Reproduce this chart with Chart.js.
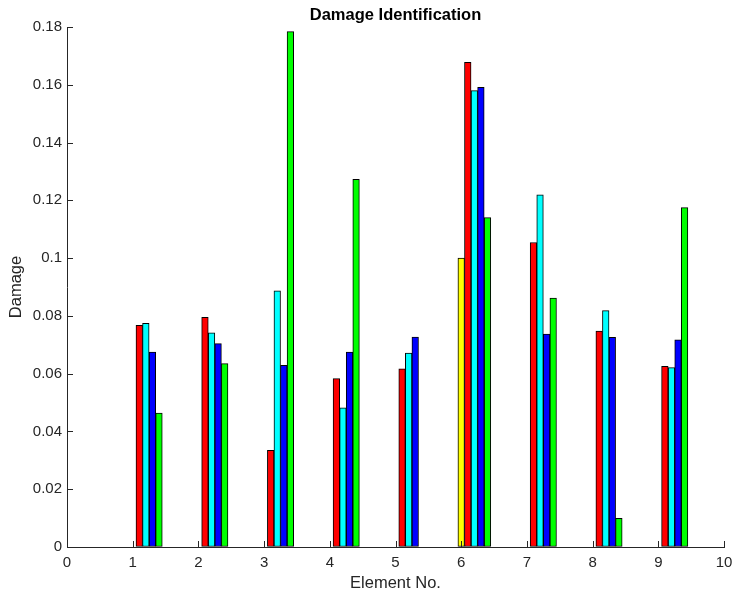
<!DOCTYPE html>
<html>
<head>
<meta charset="utf-8">
<script src="https://cdn.jsdelivr.net/npm/chart.js@4/dist/chart.umd.min.js"></script>
<style>
  html, body { margin: 0; padding: 0; background: #ffffff; }
  #wrap { width: 733px; height: 594px; }
</style>
</head>
<body>
<div id="wrap"><canvas id="c" width="733" height="594"></canvas></div>
<script>
// ---- data ----
const elements = [1, 2, 3, 4, 5, 6, 7, 8, 9];
const seriesYellow = [0, 0, 0, 0, 0, 0.1000, 0, 0, 0];
const seriesRed    = [0.0767, 0.0795, 0.0335, 0.0583, 0.0617, 0.1678, 0.1054, 0.0747, 0.0625];
const seriesCyan   = [0.0774, 0.0741, 0.0887, 0.0482, 0.0671, 0.1580, 0.1219, 0.0818, 0.0621];
const seriesBlue   = [0.0675, 0.0704, 0.0629, 0.0675, 0.0727, 0.1591, 0.0737, 0.0726, 0.0717];
const seriesGreen  = [0.0464, 0.0635, 0.1784, 0.1273, 0,      0.1140, 0.0862, 0.0099, 0.1175];
const xTickValues = [0, 1, 2, 3, 4, 5, 6, 7, 8, 9, 10];
const yTickValues = [0, 0.02, 0.04, 0.06, 0.08, 0.1, 0.12, 0.14, 0.16, 0.18];

const seriesList = [seriesYellow, seriesRed, seriesCyan, seriesBlue, seriesGreen];
const seriesColors = ['#ffff00', '#ff0000', '#00ffff', '#0000ff', '#00ff00'];
const seriesShift = [0, 0.1, 0.2, 0.3, 0.4];

const axisColor = '#262626';
const fontFamily = '"Liberation Sans", Arial, Helvetica, sans-serif';

const datasets = seriesList.map((vals, s) => ({
  label: 'S' + (s + 1),
  data: elements.map((e, i) => ({ x: e + seriesShift[s], y: vals[i] })),
  backgroundColor: seriesColors[s],
  borderColor: '#000000',
  borderWidth: 1,
  borderSkipped: false,
  barPercentage: 1,
  categoryPercentage: 1,
  grouped: false
}));

const inwardTicks = {
  id: 'inwardTicks',
  afterDraw(chart) {
    const ctx = chart.ctx;
    const xs = chart.scales.x, ys = chart.scales.y;
    const len = 6;
    ctx.save();
    ctx.strokeStyle = axisColor;
    ctx.lineWidth = 1;
    ctx.beginPath();
    xTickValues.forEach(v => {
      const px = Math.round(xs.getPixelForValue(v)) + 0.5;
      ctx.moveTo(px, ys.bottom);
      ctx.lineTo(px, ys.bottom - len);
    });
    yTickValues.forEach(v => {
      const py = Math.round(ys.getPixelForValue(v)) + 0.5;
      ctx.moveTo(xs.left, py);
      ctx.lineTo(xs.left + len, py);
    });
    ctx.stroke();
    ctx.restore();
  }
};

new Chart(document.getElementById('c'), {
  type: 'bar',
  data: { datasets },
  plugins: [inwardTicks],
  options: {
    responsive: false,
    animation: false,
    devicePixelRatio: 1,
    layout: { padding: { left: 0, right: 9, top: 0, bottom: 0 } },
    plugins: {
      legend: { display: false },
      tooltip: { enabled: false },
      title: {
        display: true,
        fullSize: false,
        text: 'Damage Identification',
        color: '#000000',
        font: { family: fontFamily, size: 16.5, weight: 'bold', lineHeight: 1.2 },
        padding: { top: 6, bottom: 1.2 }
      }
    },
    scales: {
      x: {
        type: 'linear',
        min: 0,
        max: 10,
        offset: false,
        afterFit(scale) { scale.height = 47; scale.paddingRight = 0; scale.paddingLeft = 0; },
        afterBuildTicks(scale) { scale.ticks = xTickValues.map(v => ({ value: v })); },
        grid: { display: true, drawOnChartArea: false, drawTicks: false, offset: false },
        border: { display: true, color: axisColor, width: 1 },
        ticks: {
          color: axisColor,
          padding: 7,
          maxRotation: 0,
          autoSkip: false,
          font: { family: fontFamily, size: 15 },
          callback: v => String(v)
        },
        title: {
          display: true,
          text: 'Element No.',
          color: axisColor,
          font: { family: fontFamily, size: 16.5, lineHeight: 1.2 },
          padding: { top: 0, bottom: 1 }
        }
      },
      y: {
        type: 'linear',
        min: 0,
        max: 0.18,
        afterFit(scale) { scale.width = 67; },
        afterBuildTicks(scale) { scale.ticks = yTickValues.map(v => ({ value: v })); },
        grid: { display: true, drawOnChartArea: false, drawTicks: false },
        border: { display: true, color: axisColor, width: 1 },
        ticks: {
          color: axisColor,
          padding: 5,
          autoSkip: false,
          font: { family: fontFamily, size: 15 },
          callback: v => String(Number(v.toFixed(2)))
        },
        title: {
          display: true,
          text: 'Damage',
          color: axisColor,
          font: { family: fontFamily, size: 16.5, lineHeight: 1.2 },
          padding: { top: 7, bottom: 0 }
        }
      }
    }
  }
});
</script>
</body>
</html>
